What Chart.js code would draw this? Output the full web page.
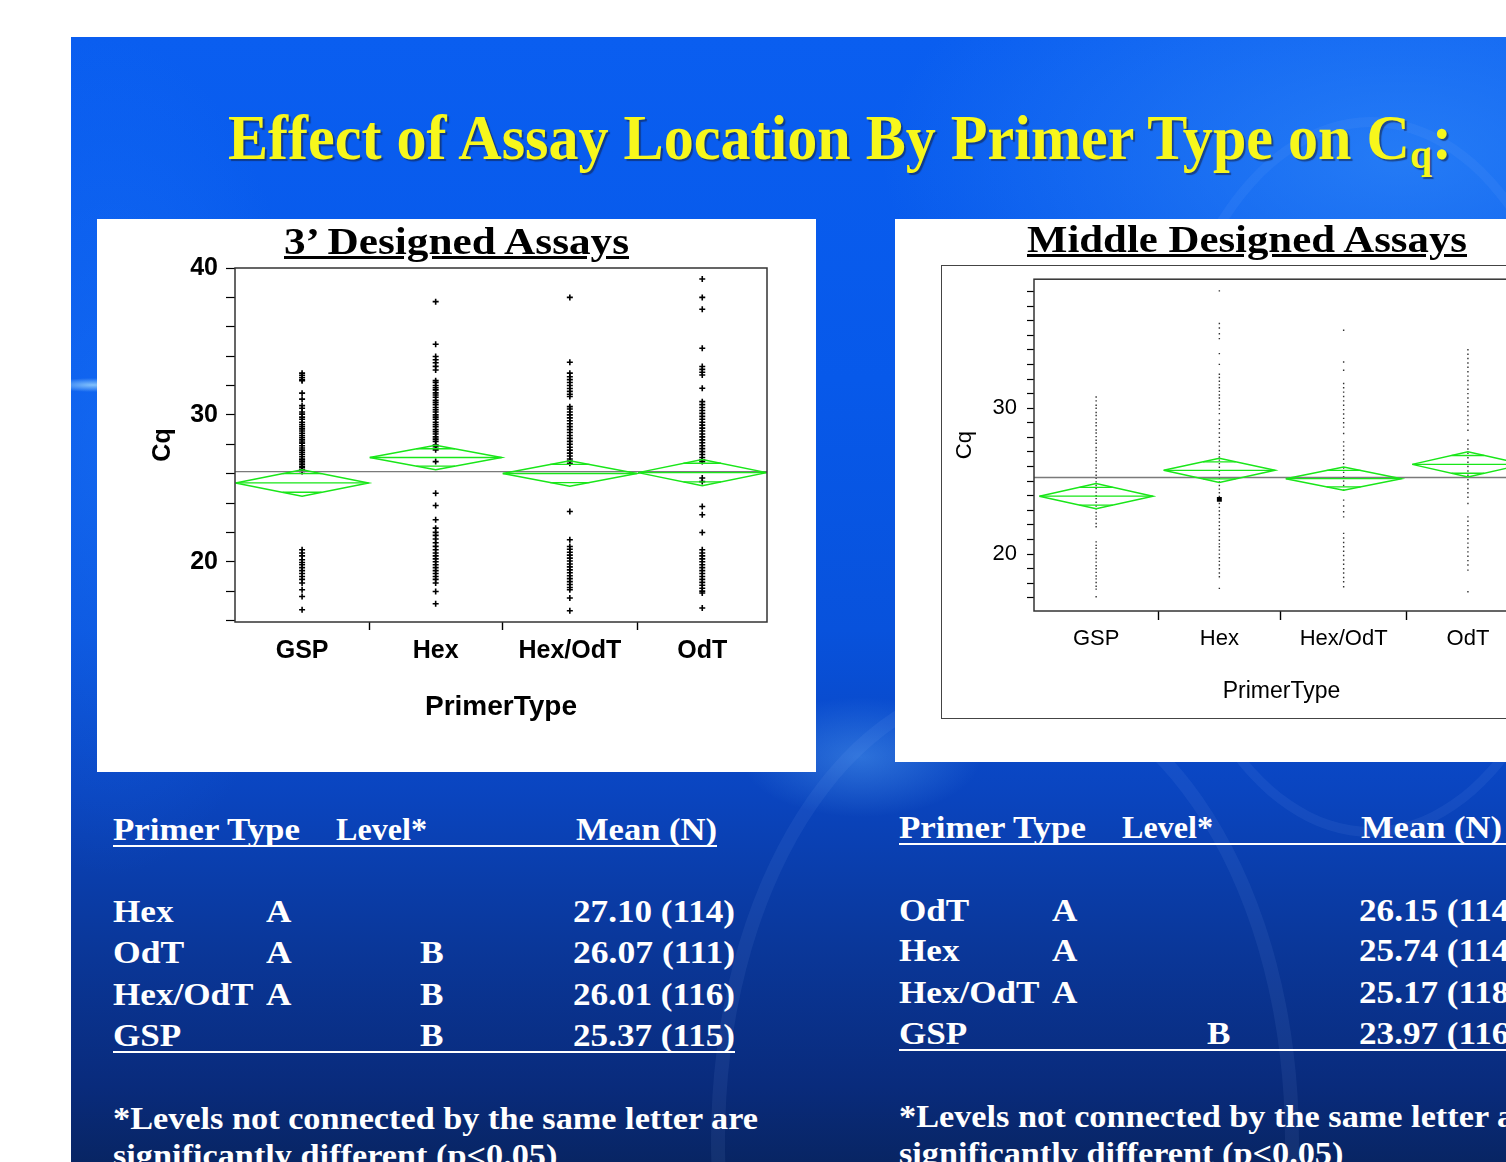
<!DOCTYPE html>
<html>
<head>
<meta charset="utf-8">
<script src="https://cdn.jsdelivr.net/npm/chart.js@4.4.1/dist/chart.umd.min.js"></script>
<style>
  html, body { margin: 0; padding: 0; }
  body { width: 1506px; height: 1162px; overflow: hidden; background: #fff; position: relative;
         font-family: 'Liberation Serif', 'Times New Roman', serif; }
  #slide { position: absolute; left: 71px; top: 37px; width: 1500px; height: 1140px; overflow: hidden;
    background:
      radial-gradient(ellipse 45px 7px at 22px 348px, rgba(150,210,255,0.85), rgba(150,210,255,0)),
      radial-gradient(ellipse 520px 260px at 1330px 120px, rgba(70,160,255,0.45), rgba(70,160,255,0)),
      radial-gradient(ellipse 200px 420px at 40px 420px, rgba(40,130,255,0.35), rgba(40,130,255,0)),
      radial-gradient(ellipse 120px 60px at 790px 720px, rgba(110,190,255,0.35), rgba(110,190,255,0)),
      linear-gradient(180deg, #0a5ef0 0%, #0759ea 30%, #0852dc 52%, #0a45c0 66%, #0a3799 80%, #092b7c 92%, #08245f 100%);
  }
  .helix { position: absolute; border-radius: 50%; border: 14px solid rgba(150,190,255,0.08); }
  .panel { position: absolute; background: #fff; }
  .txt { position: absolute; white-space: nowrap; transform-origin: 0 0; }
  .rule { position: absolute; height: 2px; background: #fff; }
  canvas { position: absolute; }
  .sub { font-size: 0.66em; position: relative; top: 0.2em; }
</style>
</head>
<body>
<div id="slide">
  <div class="helix" style="left:640px; top:640px; width:560px; height:900px;"></div>
  <div class="helix" style="left:1080px; top:80px; width:420px; height:700px; border-width:10px;"></div>
</div>
<div class="panel" style="left:97px; top:219px; width:719px; height:553px;"></div>
<div class="panel" style="left:895px; top:219px; width:700px; height:543px;"></div>
<div style="position:absolute; left:941px; top:265px; width:700px; height:452px; border:1.5px solid #444; border-right:none;"></div>
<canvas id="threePrime" width="719" height="553" style="left:97px; top:219px;"></canvas>
<canvas id="middle" width="650" height="462" style="left:941px; top:256px;"></canvas>

<script>
// ---------------- data ----------------
const categories = ['GSP', 'Hex', 'Hex/OdT', 'OdT'];

// 3' designed assays
const threeMeans = [25.37, 27.10, 26.01, 26.07];
const threeN = [115, 114, 116, 111];
const threeCI = [0.90, 0.84, 0.87, 0.90];
const threeLevelA = ['', 'A', 'A', 'A'];
const threeLevelB = ['B', '', 'B', 'B'];
const threeGSP = [32.84, 32.7, 32.55, 32.4, 32.33, 31.48, 31.07, 30.63, 30.45, 30.2, 30.05, 29.85, 29.7, 29.5,
  29.35, 29.2, 29.05, 28.9, 28.75, 28.6, 28.45, 28.3, 28.15, 28.07, 27.9, 27.75, 27.6, 27.45, 27.3, 27.15,
  27.0, 26.94, 26.8, 26.65, 26.5, 26.4, 26.26, 26.15,
  20.82, 20.6, 20.4, 20.14, 19.95, 19.8, 19.6, 19.4, 19.2, 19.0, 18.8, 18.55, 18.1, 17.64, 16.73];
const threeHex = [37.71, 34.81, 33.97, 33.75, 33.55, 33.3, 33.06, 32.33, 32.2, 32.0, 31.85, 31.7, 31.5, 31.35,
  31.2, 31.0, 30.85, 30.7, 30.5, 30.35, 30.2, 30.0, 29.85, 29.7, 29.5, 29.35, 29.2, 29.0, 28.85, 28.7, 28.5,
  28.35, 28.2, 27.95, 27.84, 27.62, 26.82,
  24.67, 23.83, 22.86, 22.29, 22.0, 21.8, 21.55, 21.3, 21.05, 20.82, 20.6, 20.4, 20.2, 20.0, 19.8, 19.6,
  19.4, 19.2, 19.0, 18.8, 18.55, 17.98, 17.14];
const threeHexOdT = [38.0, 33.58, 32.84, 32.6, 32.4, 32.2, 32.0, 31.8, 31.6, 31.4, 31.25, 30.56, 30.4, 30.2,
  30.0, 29.8, 29.6, 29.4, 29.2, 29.0, 28.8, 28.6, 28.4, 28.2, 28.0, 27.8, 27.6, 27.4, 27.2, 27.0, 26.85, 26.71,
  23.42, 21.5, 21.04, 20.85, 20.65, 20.45, 20.25, 20.05, 19.85, 19.65, 19.45, 19.25, 19.05, 18.85, 18.65,
  18.45, 18.25, 18.1, 17.53, 16.67];
const threeOdT = [39.25, 38.0, 37.19, 34.54, 33.29, 33.1, 32.9, 32.72, 31.81, 30.9, 30.7, 30.5, 30.3, 30.1,
  29.9, 29.7, 29.5, 29.3, 29.1, 28.9, 28.7, 28.5, 28.3, 28.1, 27.9, 27.7, 27.5, 27.3, 27.1, 26.95, 26.82,
  25.7, 25.46, 23.76, 23.2, 21.99, 20.82, 20.6, 20.4, 20.2, 20.0, 19.8, 19.6, 19.4, 19.2, 19.0, 18.8, 18.6,
  18.4, 18.2, 18.0, 17.87, 16.85];
const threeYTicks = [16, 18, 20, 22, 24, 26, 28, 30, 32, 34, 36, 38, 40];
const threeYLabels = [20, 30, 40];

// middle designed assays
const midMeans = [23.97, 25.74, 25.17, 26.15];
const midN = [116, 114, 118, 114];
const midCI = [0.86, 0.83, 0.80, 0.86];
const midLevelA = ['', 'A', 'A', 'A'];
const midLevelB = ['B', '', '', ''];
const midGSP = [30.77, 30.5, 30.2, 30.0, 29.7, 29.5, 29.25, 29.0, 28.8, 28.5, 28.3, 28.05, 27.8, 27.6, 27.3,
  27.1, 26.85, 26.6, 26.4, 26.1, 25.9, 25.65, 25.4, 25.2, 24.95, 24.7, 24.5, 24.25, 24.0, 23.8, 23.55, 23.3,
  23.1, 22.85, 22.6, 22.4, 22.1, 21.87, 20.84, 20.6, 20.4, 20.15, 19.9, 19.7, 19.45, 19.2, 19.0, 18.75,
  18.5, 18.3, 18.05, 17.8, 17.6, 17.08];
const midHex = [38.04, 35.8, 35.5, 35.1, 34.77, 33.74, 33.0, 32.33, 32.1, 31.85, 31.6, 31.4, 31.15, 30.9,
  30.7, 30.45, 30.2, 29.95, 29.63, 29.18, 28.9, 28.6, 28.3, 28.0, 27.7, 27.4, 27.1, 26.85, 26.66, 26.44,
  26.2, 25.95, 25.7, 25.45, 25.2, 24.95, 24.7, 24.45, 24.2, 23.95, 23.7, 23.47, 23.2, 22.95, 22.7, 22.45,
  22.2, 21.95, 21.7, 21.45, 21.2, 20.95, 20.7, 20.5, 20.27, 20.0, 19.75, 19.5, 19.25, 19.0, 18.7, 18.45, 17.65];
const midHexOdT = [35.34, 33.17, 32.6, 31.69, 31.4, 31.1, 30.8, 30.5, 30.2, 29.9, 29.6, 29.3, 29.0, 28.7,
  28.27, 27.69, 27.4, 27.1, 26.8, 26.5, 26.2, 25.9, 25.6, 25.3, 25.0, 24.7, 24.38, 23.7, 23.3, 22.9, 22.55,
  21.42, 21.1, 20.8, 20.5, 20.2, 19.9, 19.6, 19.3, 19.0, 18.7, 18.4, 18.1, 17.76];
const midOdT = [34.0, 33.7, 33.4, 33.1, 32.8, 32.5, 32.2, 31.9, 31.6, 31.3, 31.0, 30.7, 30.4, 30.1, 29.8,
  29.5, 29.2, 28.9, 28.49, 27.8, 27.5, 27.2, 26.9, 26.6, 26.3, 26.0, 25.7, 25.4, 25.1, 24.8, 24.5, 24.2,
  23.9, 23.47, 22.55, 22.25, 21.95, 21.65, 21.35, 21.05, 20.75, 20.45, 20.15, 19.85, 19.55, 19.25, 18.9, 17.42];
const midHexSelected = [23.75];
const midYTicks = [17, 18, 19, 20, 21, 22, 23, 24, 25, 26, 27, 28, 29, 30, 31, 32, 33, 34, 35, 36, 37, 38];
const midYLabels = [20, 30];

// ---------------- chart helpers ----------------
const GREEN = '#19e619';
Chart.defaults.font.family = "'Liberation Sans', Arial, sans-serif";
Chart.defaults.color = '#000';

const plotFrame = {
  id: 'plotFrame',
  afterDraw(chart, args, opts) {
    const { ctx, chartArea: a } = chart;
    ctx.save();
    ctx.strokeStyle = opts.color;
    ctx.lineWidth = opts.width;
    ctx.strokeRect(a.left, a.top, a.right - a.left, a.bottom - a.top);
    ctx.restore();
  }
};

function cqPlot(canvas, s) {
  const cum = [0];
  s.n.forEach(v => cum.push(cum[cum.length - 1] + v));
  const total = cum[cum.length - 1];
  const centers = s.n.map((v, i) => (cum[i] + cum[i + 1]) / 2);
  const bounds = cum.slice(1, -1);
  const grand = s.means.reduce((acc, m, i) => acc + m * s.n[i], 0) / total;

  const datasets = [];
  s.means.forEach((m, i) => {
    const a = cum[i] + s.inset, b = cum[i + 1] - s.inset, c = centers[i], h = s.ci[i];
    // means diamond
    datasets.push({
      data: [{ x: a, y: m }, { x: c, y: m + h }, { x: b, y: m }, { x: c, y: m - h }, { x: a, y: m }],
      showLine: true, borderColor: GREEN, borderWidth: 1.5, pointRadius: 0, order: 1
    });
    // mean line and overlap marks
    const o = h / Math.SQRT2, f = 1 - 1 / Math.SQRT2;
    const l = c - (c - a) * f, r = c + (b - c) * f;
    datasets.push({
      data: [{ x: a, y: m }, { x: b, y: m }, { x: c, y: null },
             { x: l, y: m + o }, { x: r, y: m + o }, { x: c, y: null },
             { x: l, y: m - o }, { x: r, y: m - o }],
      showLine: true, spanGaps: false, borderColor: GREEN, borderWidth: 1.3, pointRadius: 0, order: 1
    });
  });
  // grand mean
  datasets.push({
    data: [{ x: 0, y: grand }, { x: total, y: grand }],
    showLine: true, borderColor: '#7a7a7a', borderWidth: 1.4, pointRadius: 0, order: 2
  });
  // observations
  s.points.forEach((vals, i) => {
    datasets.push(Object.assign({ data: vals.map(v => ({ x: centers[i], y: v })), showLine: false, order: 3 }, s.marker));
  });
  if (s.selected) {
    s.selected.forEach((vals, i) => {
      if (!vals) return;
      datasets.push({ data: vals.map(v => ({ x: centers[i], y: v })), showLine: false, order: 0,
        pointStyle: 'rect', pointRadius: 3.5, backgroundColor: '#000', borderWidth: 0 });
    });
  }

  return new Chart(canvas, {
    type: 'scatter',
    data: { datasets },
    options: {
      responsive: false, animation: false, events: [],
      layout: { padding: s.padding },
      plugins: { legend: { display: false }, tooltip: { enabled: false }, plotFrame: { color: '#333', width: s.frameWidth } },
      scales: {
        x: {
          type: 'linear', min: 0, max: total,
          afterBuildTicks: sc => { sc.ticks = bounds.concat(centers).sort((p, q) => p - q).map(v => ({ value: v })); },
          afterFit: sc => { sc.height = s.xHeight; },
          ticks: {
            autoSkip: false, maxRotation: 0, padding: s.xTickPad, font: s.tickFont, color: '#000',
            callback: v => { const k = centers.indexOf(v); return k >= 0 ? categories[k] : ''; }
          },
          grid: {
            drawOnChartArea: false, drawTicks: true, tickLength: s.xTickLen, tickWidth: 1.4,
            tickColor: ctx => (ctx.tick && bounds.includes(ctx.tick.value)) ? '#000' : 'rgba(0,0,0,0)'
          },
          border: { display: false },
          title: { display: true, text: 'PrimerType', font: s.xTitleFont, color: '#000',
                   padding: { top: 0, bottom: s.xTitlePad } }
        },
        y: {
          type: 'linear', min: s.yMin, max: s.yMax,
          afterBuildTicks: sc => { sc.ticks = s.yTicks.map(v => ({ value: v })); },
          afterFit: sc => { sc.width = s.yWidth; },
          ticks: {
            autoSkip: false, padding: s.yTickPad, font: s.yTickFont, color: '#000',
            callback: v => s.yLabels.includes(v) ? String(v) : ''
          },
          grid: { drawOnChartArea: false, drawTicks: true, tickLength: s.yTickLen, tickWidth: 1.2, tickColor: '#000' },
          border: { display: false },
          title: { display: true, text: 'Cq', font: s.yTitleFont, color: '#000',
                   padding: { top: s.yTitlePad, bottom: 0 } }
        }
      }
    },
    plugins: [plotFrame]
  });
}

cqPlot(document.getElementById('threePrime'), {
  means: threeMeans, n: threeN, ci: threeCI, inset: 0.5,
  points: [threeGSP, threeHex, threeHexOdT, threeOdT],
  marker: { pointStyle: 'cross', pointRadius: 3, borderColor: '#000', borderWidth: 1.6 },
  yMin: 15.9, yMax: 40, yTicks: threeYTicks, yLabels: threeYLabels,
  padding: { left: 0, top: 49, right: 49, bottom: 0 },
  yWidth: 138, xHeight: 150, frameWidth: 1.5,
  tickFont: { size: 25, weight: 'bold' }, yTickFont: { size: 25, weight: 'bold' },
  xTitleFont: { size: 28, weight: 'bold' }, yTitleFont: { size: 25, weight: 'bold' },
  xTickLen: 8, xTickPad: 6, xTitlePad: 48, yTickLen: 9, yTickPad: 8, yTitlePad: 51
});

cqPlot(document.getElementById('middle'), {
  means: midMeans, n: midN, ci: midCI, inset: 5,
  points: [midGSP, midHex, midHexOdT, midOdT],
  selected: [null, midHexSelected, null, null],
  marker: { pointStyle: 'rect', pointRadius: 1, backgroundColor: '#333', borderWidth: 0 },
  yMin: 16.1, yMax: 38.84, yTicks: midYTicks, yLabels: midYLabels,
  padding: { left: 0, top: 0, right: 62, bottom: 0 },
  yWidth: 93, xHeight: 107, frameWidth: 1.5,
  tickFont: { size: 22 }, yTickFont: { size: 22 },
  xTitleFont: { size: 23 }, yTitleFont: { size: 22 },
  xTickLen: 9, xTickPad: 6, xTitlePad: 13, yTickLen: 7, yTickPad: 10, yTitlePad: 11
});

// ---------------- slide text ----------------
function place(html, x, baseline, size, opts) {
  const o = Object.assign({ weight: 'bold', color: '#fff', width: null, scale: null }, opts || {});
  const d = document.createElement('div');
  d.className = 'txt';
  d.innerHTML = html;
  d.style.fontSize = size + 'px';
  d.style.lineHeight = size + 'px';
  d.style.fontWeight = o.weight;
  d.style.color = o.color;
  if (o.shadow) d.style.textShadow = o.shadow;
  if (o.underline) d.style.textDecoration = 'underline';
  d.style.left = x + 'px';
  d.style.top = (baseline - 0.8375 * size) + 'px';
  document.body.appendChild(d);
  let k = o.scale;
  if (o.width) k = o.width / d.getBoundingClientRect().width;
  if (k) d.style.transform = 'scaleX(' + k + ')';
  if (o.center) d.style.left = (o.center - d.getBoundingClientRect().width / 2) + 'px';
  return k;
}
function rule(x, y, w) {
  const r = document.createElement('div');
  r.className = 'rule';
  r.style.left = x + 'px'; r.style.top = (y - 1) + 'px'; r.style.width = w + 'px';
  document.body.appendChild(r);
}

function table(means, n, levelA, levelB, col, headBase, rowBase, lineTop, lineBottom, footBase) {
  place('Primer Type', col[0], headBase, 31, { width: 187 });
  place('Level*', col[4], headBase, 31, { width: 91 });
  place('Mean (N)', col[5], headBase, 31, { width: 141 });
  rule(col[0], lineTop[0], lineTop[1]);
  const order = means.map((m, i) => i).sort((p, q) => means[q] - means[p]);
  order.forEach((i, r) => {
    const b = rowBase[r];
    const label = means[i].toFixed(2) + ' (' + n[i] + ')';
    const rk = place(label, col[3], b, 32, { width: 162 });
    place(categories[i], col[0], b, 32, { scale: rk });
    if (levelA[i]) place(levelA[i], col[1], b, 32, { scale: rk });
    if (levelB[i]) place(levelB[i], col[2], b, 32, { scale: rk });
  });
  rule(col[0], lineBottom[0], lineBottom[1]);
  const fk = place('*Levels not connected by the same letter are', col[0], footBase, 31, { width: 645 });
  place('significantly different (p&lt;0.05)', col[0], footBase + 37, 31, { scale: fk });
}

function drawText() {
  place('Effect of Assay Location By Primer Type on C<span class="sub">q</span>:', 228, 160, 63,
        { color: '#f7f71c', width: 1224, shadow: '2px 2px 1px rgba(20,30,60,0.55)' });
  place('3\u2019 Designed Assays', 0, 254, 38, { color: '#000', width: 345, underline: true, center: 456 });
  place('Middle Designed Assays', 0, 252, 38, { color: '#000', width: 440, underline: true, center: 1247 });
  table(threeMeans, threeN, threeLevelA, threeLevelB, [113, 266, 420, 573, 336, 576],
        840, [922, 963, 1005, 1046], [846, 604], [1052, 622], 1129);
  table(midMeans, midN, midLevelA, midLevelB, [899, 1052, 1207, 1359, 1122, 1361],
        838, [921, 961, 1003, 1044], [844, 700], [1050, 700], 1127);
}
if (document.fonts && document.fonts.ready) document.fonts.ready.then(drawText); else drawText();
</script>
</body>
</html>
